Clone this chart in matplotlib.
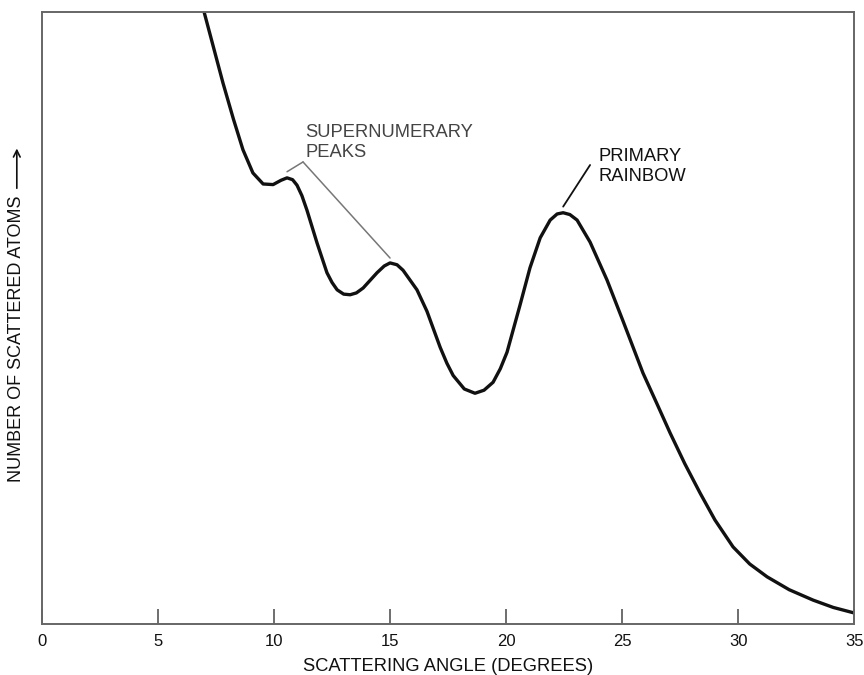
import matplotlib
matplotlib.use("Agg")
import matplotlib.pyplot as plt

plt.rcParams['font.family'] = ['Liberation Sans', 'DejaVu Sans']

# scattering angle (degrees) and relative number of atoms
angle = [6.9, 7.0, 7.8, 8.25, 8.66, 9.09, 9.53, 9.96, 10.3, 10.56, 10.8, 10.99, 11.2,
         11.42, 11.85, 12.28, 12.5, 12.72, 13.0, 13.28, 13.55, 13.84, 14.44, 14.75,
         15.0, 15.3, 15.56, 16.16, 16.59, 17.16, 17.45, 17.72, 18.2, 18.66, 19.05,
         19.44, 19.75, 20.04, 20.6, 21.03, 21.47, 21.9, 22.2, 22.46, 22.75, 23.06,
         23.62, 24.35, 25.04, 25.9, 26.5, 27.07, 27.7, 28.36, 29.0, 29.78, 30.5,
         31.25, 32.2, 33.23, 34.1, 35.0]
atoms = [101.5, 99.8, 88.4, 82.5, 77.5, 73.7, 71.9, 71.8, 72.5, 72.9, 72.6, 71.7, 70.0,
         67.6, 62.3, 57.4, 55.8, 54.6, 53.9, 53.8, 54.1, 54.9, 57.4, 58.5,
         59.0, 58.7, 57.8, 54.6, 51.1, 45.2, 42.6, 40.6, 38.4, 37.7, 38.2,
         39.5, 41.7, 44.4, 52.1, 58.2, 63.1, 66.0, 67.0, 67.2, 66.9, 66.0,
         62.4, 56.2, 49.5, 41.0, 36.0, 31.2, 26.2, 21.4, 17.0, 12.6, 9.8,
         7.7, 5.6, 3.9, 2.7, 1.8]

x_ticks = [0, 5, 10, 15, 20, 25, 30, 35]
x_tick_labels = ["0", "5", "10", "15", "20", "25", "30", "35"]

fig = plt.figure(figsize=(8.64, 6.75), dpi=100)
ax = fig.add_axes([0.0486, 0.0756, 0.94, 0.9066])

ax.plot(angle, atoms, color="#111111", linewidth=2.4,
        solid_capstyle="round", solid_joinstyle="round")

ax.set_xlim(0, 35)
ax.set_ylim(0, 100)
ax.set_xticks(x_ticks)
ax.set_xticklabels(x_tick_labels)
ax.set_yticks([])
ax.tick_params(axis="x", direction="in", length=11, width=1.2, color="#555555",
               labelsize=12, pad=7, labelcolor="#111111")

for s in ax.spines.values():
    s.set_color("#666666")
    s.set_linewidth(1.4)

ax.set_xlabel("SCATTERING ANGLE (DEGREES)", fontsize=13.2, labelpad=7, color="#111111")

# y label with a separate long arrow above it
ax.text(-0.032, 0.232, "NUMBER OF SCATTERED ATOMS", transform=ax.transAxes,
        rotation=90, ha="center", va="bottom", fontsize=13, color="#111111")
ax.annotate("", xy=(-0.031, 0.777), xytext=(-0.031, 0.712), xycoords="axes fraction",
            arrowprops=dict(arrowstyle="->", color="#111111", lw=1.2,
                            shrinkA=0, shrinkB=0, mutation_scale=12))

# supernumerary peaks: bracket from a common apex down to both peaks
i1 = angle.index(10.56)
i2 = angle.index(15.0)
apex = (11.25, 75.5)
for i, lift in ((i1, 1.0), (i2, 0.8)):
    ax.annotate("", xy=(angle[i], atoms[i] + lift), xytext=apex,
                arrowprops=dict(arrowstyle="-", color="#777777", lw=1.1,
                                shrinkA=0, shrinkB=0))
ax.text(11.34, 81.7, "SUPERNUMERARY\nPEAKS", fontsize=13.2, color="#444444",
        ha="left", va="top", linespacing=1.2)

# primary rainbow
i3 = angle.index(22.46)
ax.annotate("", xy=(angle[i3], atoms[i3] + 1.0), xytext=(23.62, 75.0),
            arrowprops=dict(arrowstyle="-", color="#111111", lw=1.3,
                            shrinkA=0, shrinkB=0))
ax.text(23.97, 77.7, "PRIMARY\nRAINBOW", fontsize=13.2, color="#111111",
        ha="left", va="top", linespacing=1.2)

fig.savefig("out.png", dpi=100)
